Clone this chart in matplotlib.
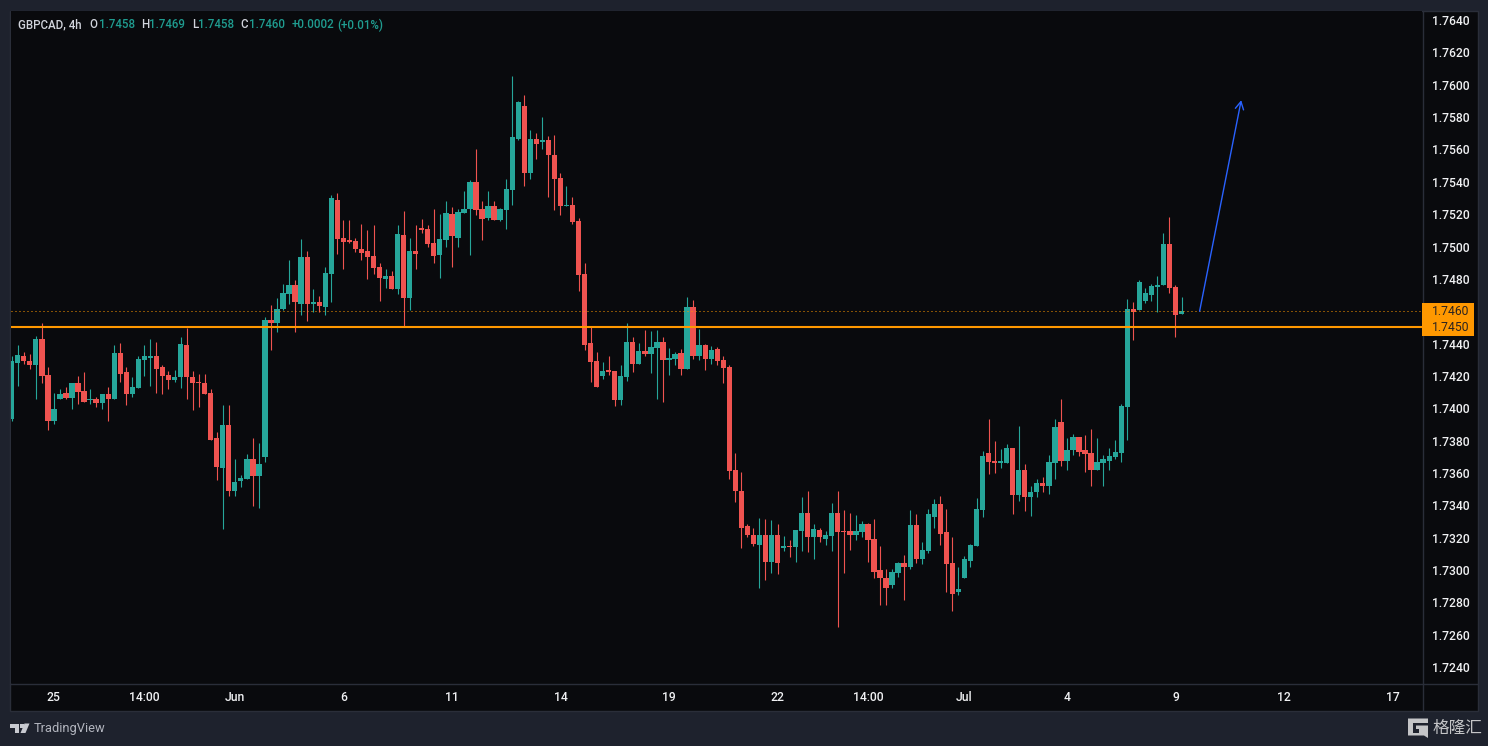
import matplotlib
matplotlib.use("Agg")
from matplotlib import pyplot as plt
from matplotlib.lines import Line2D
from matplotlib.patches import Rectangle, Polygon

plt.rcParams["font.family"] = ["Roboto", "DejaVu Sans"]

opens = [
    1.73936, 1.74282, 1.74326, 1.74295, 1.74270, 1.74425, 1.74208, 1.73924, 1.74060, 1.74097,
    1.74066, 1.74153, 1.74109, 1.74048, 1.74054, 1.74035, 1.74091, 1.74054, 1.74344, 1.74221,
    1.74085, 1.74128, 1.74301, 1.74313, 1.74326, 1.74252, 1.74208, 1.74177, 1.74190, 1.74394,
    1.74196, 1.74165, 1.74153, 1.74097, 1.73813, 1.73633, 1.73899, 1.73491, 1.73553, 1.73565,
    1.73689, 1.73578, 1.73701, 1.74548, 1.74524, 1.74616, 1.74709, 1.74765, 1.74647, 1.74938,
    1.74647, 1.74654, 1.74629, 1.74833, 1.75290, 1.75055, 1.75043, 1.75037, 1.74987, 1.74975,
    1.74944, 1.74876, 1.74802, 1.74820, 1.74740, 1.75074, 1.74684, 1.74975, 1.75117, 1.75111,
    1.75024, 1.74950, 1.75043, 1.75204, 1.75055, 1.75210, 1.75229, 1.75402, 1.75229, 1.75174,
    1.75248, 1.75161, 1.75223, 1.75347, 1.75668, 1.75866, 1.75452, 1.75668, 1.75644, 1.75656,
    1.75569, 1.75421, 1.75248, 1.75254, 1.75155, 1.74828, 1.74401, 1.74290, 1.74197, 1.74234,
    1.74228, 1.74048, 1.74191, 1.74407, 1.74271, 1.74351, 1.74333, 1.74370, 1.74407, 1.74296,
    1.74302, 1.74339, 1.74240, 1.74623, 1.74320, 1.74388, 1.74302, 1.74364, 1.74296, 1.74252,
    1.73615, 1.73491, 1.73269, 1.73219, 1.73157, 1.73213, 1.73052, 1.73219, 1.73133, 1.73151,
    1.73139, 1.73238, 1.73349, 1.73201, 1.73244, 1.73194, 1.73207, 1.73349, 1.73238, 1.73238,
    1.73213, 1.73232, 1.73287, 1.73194, 1.72997, 1.72953, 1.72904, 1.72984, 1.73040, 1.73015,
    1.73275, 1.73065, 1.73120, 1.73330, 1.73405, 1.73232, 1.73040, 1.72861, 1.72947, 1.73058,
    1.73151, 1.73368, 1.73720, 1.73671, 1.73659, 1.73659, 1.73757, 1.73461, 1.73621, 1.73448,
    1.73479, 1.73535, 1.73522, 1.73659, 1.73912, 1.73671, 1.73739, 1.73819, 1.73739, 1.73720,
    1.73621, 1.73659, 1.73671, 1.73696, 1.73720, 1.74005, 1.74611, 1.74605, 1.74666, 1.74703,
    1.74747, 1.74759, 1.75013, 1.74747, 1.7458,
]
highs = [
    1.74326, 1.74394, 1.74350, 1.74338, 1.74449, 1.74530, 1.74258, 1.74097, 1.74116, 1.74134,
    1.74153, 1.74202, 1.74227, 1.74116, 1.74072, 1.74091, 1.74134, 1.74388, 1.74406, 1.74258,
    1.74196, 1.74326, 1.74388, 1.74425, 1.74412, 1.74270, 1.74233, 1.74239, 1.74443, 1.74499,
    1.74233, 1.74214, 1.74214, 1.74116, 1.73850, 1.74017, 1.74017, 1.73683, 1.73590, 1.73714,
    1.73813, 1.73788, 1.74567, 1.74641, 1.74684, 1.74771, 1.74919, 1.74796, 1.75049, 1.74975,
    1.74740, 1.74691, 1.74876, 1.75321, 1.75334, 1.75167, 1.75167, 1.75055, 1.75142, 1.75105,
    1.75130, 1.74901, 1.74864, 1.74851, 1.75130, 1.75222, 1.75055, 1.75136, 1.75173, 1.75130,
    1.75235, 1.75204, 1.75284, 1.75247, 1.75229, 1.75346, 1.75409, 1.75600, 1.75279, 1.75341,
    1.75279, 1.75236, 1.75415, 1.76052, 1.75897, 1.75940, 1.75718, 1.75705, 1.75804, 1.75681,
    1.75687, 1.75452, 1.75372, 1.75304, 1.75174, 1.74896, 1.74502, 1.74345, 1.74283, 1.74320,
    1.74228, 1.74265, 1.74525, 1.74438, 1.74401, 1.74481, 1.74475, 1.74481, 1.74438, 1.74370,
    1.74345, 1.74364, 1.74685, 1.74667, 1.74487, 1.74395, 1.74382, 1.74376, 1.74320, 1.74270,
    1.73720, 1.73603, 1.73281, 1.73262, 1.73324, 1.73312, 1.73306, 1.73281, 1.73207, 1.73188,
    1.73244, 1.73448, 1.73485, 1.73287, 1.73262, 1.73238, 1.73411, 1.73485, 1.73368, 1.73355,
    1.73337, 1.73300, 1.73293, 1.73318, 1.73151, 1.73003, 1.73003, 1.73046, 1.73095, 1.73368,
    1.73343, 1.73170, 1.73374, 1.73436, 1.73460, 1.73374, 1.73201, 1.73021, 1.73089, 1.73163,
    1.73442, 1.73733, 1.73931, 1.73795, 1.73745, 1.73776, 1.73757, 1.73893, 1.73652, 1.73522,
    1.73560, 1.73572, 1.73708, 1.73931, 1.74060, 1.73813, 1.73838, 1.73825, 1.73832, 1.73869,
    1.73813, 1.73708, 1.73751, 1.73801, 1.74029, 1.74673, 1.74654, 1.74796, 1.74741, 1.74771,
    1.74815, 1.75081, 1.75180, 1.74759, 1.7469,
]
lows = [
    1.73924, 1.74140, 1.74276, 1.74245, 1.74060, 1.74159, 1.73868, 1.73905, 1.74060, 1.74060,
    1.73998, 1.74029, 1.74041, 1.74029, 1.74010, 1.73998, 1.73918, 1.74054, 1.74165, 1.74017,
    1.74072, 1.74122, 1.74202, 1.74140, 1.74097, 1.74091, 1.74116, 1.74165, 1.74128, 1.74060,
    1.73992, 1.74010, 1.74091, 1.73806, 1.73559, 1.73250, 1.73460, 1.73460, 1.73510, 1.73565,
    1.73398, 1.73380, 1.73670, 1.74363, 1.74474, 1.74610, 1.74647, 1.74474, 1.74579, 1.74542,
    1.74598, 1.74598, 1.74579, 1.74654, 1.74956, 1.74858, 1.75024, 1.74969, 1.74919, 1.74802,
    1.74833, 1.74660, 1.74746, 1.74740, 1.74709, 1.74505, 1.74610, 1.74858, 1.75086, 1.75000,
    1.74895, 1.74808, 1.75000, 1.74876, 1.74994, 1.75210, 1.74945, 1.75198, 1.75038, 1.75161,
    1.75161, 1.75155, 1.75106, 1.75254, 1.75656, 1.75372, 1.75415, 1.75539, 1.75600, 1.75304,
    1.75223, 1.75198, 1.75248, 1.75137, 1.74722, 1.74358, 1.74160, 1.74129, 1.74178, 1.74203,
    1.74011, 1.74018, 1.74166, 1.74222, 1.74271, 1.74320, 1.74215, 1.74055, 1.74036, 1.74203,
    1.74265, 1.74203, 1.74240, 1.74302, 1.74296, 1.74234, 1.74271, 1.74265, 1.74154, 1.73565,
    1.73423, 1.73133, 1.73201, 1.73145, 1.72891, 1.72935, 1.72984, 1.72972, 1.73120, 1.73077,
    1.73052, 1.73114, 1.73108, 1.73065, 1.73170, 1.73157, 1.73120, 1.72644, 1.72984, 1.73126,
    1.73188, 1.73201, 1.73052, 1.72953, 1.72786, 1.72786, 1.72891, 1.72959, 1.72817, 1.73003,
    1.73040, 1.73034, 1.73102, 1.73262, 1.73157, 1.72861, 1.72749, 1.72842, 1.72947, 1.73015,
    1.73151, 1.73325, 1.73591, 1.73597, 1.73628, 1.73659, 1.73343, 1.73424, 1.73362, 1.73331,
    1.73454, 1.73479, 1.73467, 1.73560, 1.73640, 1.73615, 1.73708, 1.73702, 1.73603, 1.73522,
    1.73621, 1.73522, 1.73621, 1.73683, 1.73665, 1.73801, 1.74419, 1.74605, 1.74648, 1.74666,
    1.74592, 1.74759, 1.74710, 1.74438, 1.7458,
]
closes = [
    1.74289, 1.74332, 1.74289, 1.74270, 1.74425, 1.74202, 1.73924, 1.73998, 1.74091, 1.74066,
    1.74153, 1.74103, 1.74041, 1.74054, 1.74035, 1.74085, 1.74054, 1.74344, 1.74214, 1.74091,
    1.74134, 1.74307, 1.74320, 1.74326, 1.74245, 1.74202, 1.74177, 1.74196, 1.74400, 1.74190,
    1.74159, 1.74153, 1.74091, 1.73806, 1.73639, 1.73899, 1.73491, 1.73541, 1.73571, 1.73683,
    1.73578, 1.73652, 1.74548, 1.74524, 1.74616, 1.74715, 1.74765, 1.74654, 1.74938, 1.74647,
    1.74654, 1.74635, 1.74839, 1.75297, 1.75049, 1.75031, 1.75031, 1.74987, 1.74963, 1.74938,
    1.74870, 1.74808, 1.74820, 1.74740, 1.75080, 1.74684, 1.74975, 1.74956, 1.75105, 1.75018,
    1.74944, 1.75049, 1.75210, 1.75062, 1.75216, 1.75235, 1.75402, 1.75223, 1.75168, 1.75248,
    1.75161, 1.75229, 1.75353, 1.75675, 1.75891, 1.75452, 1.75668, 1.75637, 1.75656, 1.75563,
    1.75415, 1.75248, 1.75254, 1.75149, 1.74821, 1.74388, 1.74283, 1.74129, 1.74228, 1.74222,
    1.74048, 1.74197, 1.74407, 1.74271, 1.74351, 1.74333, 1.74376, 1.74407, 1.74296, 1.74308,
    1.74333, 1.74240, 1.74623, 1.74320, 1.74388, 1.74302, 1.74358, 1.74290, 1.74246, 1.73609,
    1.73485, 1.73262, 1.73213, 1.73163, 1.73213, 1.73052, 1.73219, 1.73040, 1.73151, 1.73139,
    1.73244, 1.73349, 1.73201, 1.73250, 1.73201, 1.73213, 1.73349, 1.73232, 1.73232, 1.73213,
    1.73238, 1.73287, 1.73188, 1.72990, 1.72947, 1.72891, 1.72990, 1.73040, 1.73015, 1.73275,
    1.73065, 1.73126, 1.73343, 1.73405, 1.73225, 1.73034, 1.72854, 1.72885, 1.73065, 1.73157,
    1.73374, 1.73702, 1.73665, 1.73659, 1.73671, 1.73757, 1.73461, 1.73621, 1.73448, 1.73479,
    1.73535, 1.73522, 1.73665, 1.73881, 1.73671, 1.73739, 1.73819, 1.73727, 1.73714, 1.73621,
    1.73665, 1.73683, 1.73702, 1.73727, 1.74011, 1.74611, 1.74598, 1.74778, 1.74710, 1.74753,
    1.74765, 1.75013, 1.74741, 1.74574, 1.7460,
]

price_ticks = [1.7240, 1.7260, 1.7280, 1.7300, 1.7320, 1.7340, 1.7360, 1.7380, 1.7400, 1.7420,
               1.7440, 1.7480, 1.7500, 1.7520, 1.7540, 1.7560, 1.7580, 1.7600, 1.7620, 1.7640]
time_ticks = [7, 22, 37, 55, 73, 91, 109, 127, 142, 158, 175, 193, 211, 229]
time_labels = ["25", "14:00", "Jun", "6", "11", "14", "19", "22", "14:00", "Jul", "4", "9", "12", "17"]

level = 1.7450
last_close = 1.7460
arrow_start = (197.0, 1.7460)
arrow_end = (203.9, 1.75905)

UP = "#26a69a"
DOWN = "#ef5350"
ORANGE = "#ff9800"
BLUE = "#2962ff"
OUTER = "#1e222d"
PANE = "#090a0d"
SEP = "#2a2e39"
W, H = 1488, 746


def fx(px):
    return px / W


def fy(py):
    return 1 - py / H


fig = plt.figure(figsize=(W / 100, H / 100), dpi=100, facecolor=OUTER)
fig.add_artist(Rectangle((fx(10), fy(710.5)), fx(1478) - fx(10), fy(10.5) - fy(710.5),
                         transform=fig.transFigure, facecolor=PANE, edgecolor=SEP, lw=1, zorder=-1))

ax = fig.add_axes([fx(10.5), fy(683), fx(1422) - fx(10.5), fy(11) - fy(683)], facecolor=PANE)
ax.set_xlim(-0.2, 233.88)
ax.set_ylim(1.723007, 1.764565)
for s in ax.spines.values():
    s.set_visible(False)

# wicks then bodies
for i in range(len(opens)):
    col = UP if closes[i] >= opens[i] else DOWN
    ax.vlines(i, lows[i], highs[i], color=col, lw=0.8, zorder=2)
    bottom = min(opens[i], closes[i])
    height = max(abs(closes[i] - opens[i]), 0.00006)
    ax.bar(i, height, width=0.88, bottom=bottom, color=col, lw=0, zorder=3)

ax.axhline(last_close, color=ORANGE, lw=0.72, ls=(0, (1, 3)), zorder=4, snap=True)
ax.axhline(level, color=ORANGE, lw=1.5, zorder=4)

ax.annotate("", xy=arrow_end, xytext=arrow_start,
            arrowprops=dict(arrowstyle="->,head_length=0.55,head_width=0.3", color=BLUE, lw=1.0,
                            shrinkA=0, shrinkB=0), zorder=5)

ax.yaxis.tick_right()
ax.set_yticks(price_ticks)
ax.set_yticklabels([f"{t:.4f}" for t in price_ticks])
ax.set_xticks(time_ticks)
ax.set_xticklabels(time_labels)
ax.tick_params(axis="y", length=0, pad=7, labelsize=8.7, labelcolor="#f0f1f3")
ax.tick_params(axis="x", length=0, pad=5.5, labelsize=8.7, labelcolor="#f0f1f3")
for lab in ax.get_yticklabels() + ax.get_xticklabels():
    lab.set_fontweight("medium")

# orange price tags on the axis
trans = ax.get_yaxis_transform()
tag_w = 52 / (1422 - 10.5)
for val in [last_close, level]:
    ax.add_patch(Rectangle((1.0, val - 0.00052), tag_w, 0.00104, transform=trans,
                           facecolor=ORANGE, edgecolor="none", clip_on=False, zorder=6))
    ax.text(1.0 + 10 / (1422 - 10.5), val, f"{val:.4f}", transform=trans, va="center", ha="left",
            fontsize=8.7, color="#2b2320", clip_on=False, zorder=7)

# pane separators
fig.add_artist(Line2D([fx(1422.5)] * 2, [fy(10.5), fy(710.5)], color=SEP, lw=1, zorder=-0.5))
fig.add_artist(Line2D([fx(10), fx(1478)], [fy(683.5)] * 2, color=SEP, lw=1, zorder=-0.5))

# legend line
LEG = 8.3
GREY = "#d1d4dc"
TEAL = "#1f9c90"
fig.text(fx(18), fy(25), "GBPCAD, 4h", color=GREY, fontsize=LEG, va="center", fontweight="medium")
legend_bits = [(89.5, "O", GREY), (98.5, "1.7458", TEAL), (140.7, "H", GREY), (149.3, "1.7469", TEAL),
               (191.7, "L", GREY), (198.3, "1.7458", TEAL), (240.7, "C", GREY), (249.3, "1.7460", TEAL),
               (291.7, "+0.0002", TEAL), (337.3, "(+0.01%)", TEAL)]
for px, txt, col in legend_bits:
    fig.text(fx(px), fy(25), txt, color=col, fontsize=LEG, va="center", fontweight="medium")

# TradingView mark
LOGO = "#c8cad0"
for pts in [[(10, 723.5), (18.5, 723.5), (18.5, 733), (14.5, 733), (14.5, 727.5), (10, 727.5)],
            [(29.5, 723.5), (25.5, 733), (20.5, 733), (24.5, 723.5)]]:
    fig.add_artist(Polygon([(fx(x), fy(y)) for x, y in pts], closed=True, transform=fig.transFigure,
                           facecolor=LOGO, edgecolor="none"))
fig.add_artist(Rectangle((fx(19.5), fy(727.5)), fx(4) - fx(0), fy(723.5) - fy(727.5),
                         transform=fig.transFigure, facecolor=LOGO, edgecolor="none"))
fig.text(fx(33.5), fy(728.5), "TradingView", color="#b2b5be", fontsize=9.3, va="center")

# watermark
WM = "#c4c5c7"
g_pts = [(1408, 718.5), (1428, 718.5), (1428, 723), (1413, 723), (1413, 733), (1419, 733), (1419, 729),
         (1416, 729), (1416, 725.5), (1428, 725.5), (1428, 738), (1424, 735.5), (1408, 735.5)]
fig.add_artist(Polygon([(fx(x), fy(y)) for x, y in g_pts], closed=True, transform=fig.transFigure,
                       facecolor=WM, edgecolor="none"))
fig.text(fx(1432.5), fy(728), "格隆汇", color=WM, fontsize=12,
         family=["Noto Sans CJK SC", "DejaVu Sans"], va="center")

fig.savefig("out.png", dpi=100, facecolor=fig.get_facecolor())
